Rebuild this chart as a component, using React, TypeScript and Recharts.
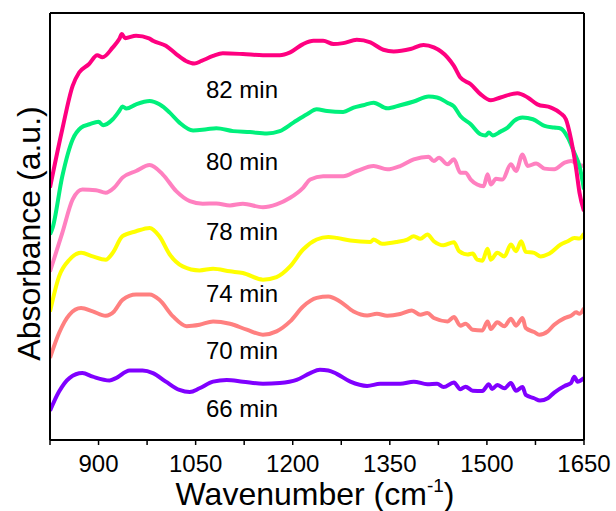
import { LineChart, Line, XAxis, YAxis, ReferenceDot } from "recharts"

// FTIR spectra, [wavenumber (cm-1), absorbance (offset, a.u.)]
const min82: [number, number][] = [
  [825, 10.64], [844, 13.1], [860, 14.93], [870, 15.49], [885, 15.84], [898, 16.22], [906, 16.13],
  [922, 16.55], [932, 16.9], [936, 17.11], [941, 16.94], [958, 17.04], [978, 16.93], [984, 16.83],
  [1004, 16.62], [1020, 16.27], [1035, 15.98], [1048, 15.87], [1059, 15.98], [1077, 16.19],
  [1092, 16.3], [1123, 16.27], [1154, 16.22], [1180, 16.22], [1196, 16.34], [1216, 16.69],
  [1232, 16.83], [1247, 16.83], [1263, 16.69], [1278, 16.73], [1299, 16.87], [1320, 16.76],
  [1340, 16.45], [1356, 16.38], [1382, 16.48], [1402, 16.65], [1418, 16.55], [1439, 16.13],
  [1449, 15.77], [1459, 15.28], [1475, 15.0], [1490, 14.58], [1506, 14.32], [1521, 14.44],
  [1547, 14.62], [1563, 14.44], [1578, 14.15], [1599, 14.01], [1614, 13.77], [1622, 13.52],
  [1630, 12.67], [1638, 11.41], [1643, 10.43], [1650, 9.65],
]

const min80: [number, number][] = [
  [825, 8.66], [829, 8.94], [844, 11.12], [860, 12.67], [873, 13.17], [886, 13.31], [900, 13.42],
  [907, 13.27], [922, 13.52], [932, 13.87], [937, 14.06], [943, 13.97], [958, 14.15], [979, 14.29],
  [994, 14.15], [1010, 13.8], [1025, 13.38], [1046, 13.05], [1067, 13.1], [1082, 13.14],
  [1108, 13.02], [1134, 12.98], [1160, 12.92], [1180, 13.02], [1201, 13.38], [1222, 13.73],
  [1237, 13.94], [1253, 13.87], [1278, 13.83], [1294, 14.01], [1309, 14.11], [1325, 14.22],
  [1346, 13.98], [1366, 14.11], [1387, 14.27], [1410, 14.48], [1423, 14.44], [1439, 14.22],
  [1449, 14.06], [1459, 13.66], [1475, 13.31], [1490, 12.89], [1498, 12.84], [1503, 12.96],
  [1509, 12.84], [1521, 13.0], [1532, 13.17], [1542, 13.45], [1555, 13.59], [1571, 13.52],
  [1589, 13.24], [1604, 13.17], [1614, 13.13], [1625, 12.75], [1635, 12.11], [1643, 11.55],
  [1650, 10.56],
]

const min78: [number, number][] = [
  [825, 7.1], [844, 8.73], [860, 10.14], [875, 10.56], [896, 10.53], [911, 10.42], [924, 10.63],
  [937, 11.06], [958, 11.34], [979, 11.59], [999, 11.2], [1020, 10.49], [1041, 10.07],
  [1061, 9.96], [1082, 9.97], [1103, 9.89], [1123, 9.96], [1154, 9.81], [1175, 9.93],
  [1196, 10.21], [1216, 10.63], [1227, 10.98], [1247, 11.12], [1278, 11.12], [1299, 11.34],
  [1325, 11.55], [1346, 11.41], [1366, 11.55], [1387, 11.83], [1410, 11.94], [1418, 11.76],
  [1426, 11.9], [1439, 11.62], [1449, 11.83], [1459, 11.27], [1467, 11.27], [1475, 10.98],
  [1485, 10.77], [1495, 10.7], [1501, 11.2], [1506, 10.77], [1514, 11.01], [1524, 10.98],
  [1537, 11.62], [1545, 11.34], [1555, 12.04], [1563, 11.55], [1576, 11.66], [1589, 11.44],
  [1604, 11.41], [1620, 11.69], [1630, 11.76], [1640, 11.62], [1650, 11.55],
]

const min74: [number, number][] = [
  [825, 5.41], [839, 6.9], [855, 7.6], [873, 7.89], [891, 7.74], [911, 7.6], [922, 7.89],
  [937, 8.59], [958, 8.8], [979, 8.94], [994, 8.59], [1010, 7.82], [1030, 7.32], [1056, 7.15],
  [1077, 7.22], [1103, 7.11], [1123, 7.04], [1154, 6.76], [1175, 6.87], [1196, 7.32],
  [1216, 8.03], [1237, 8.45], [1255, 8.56], [1268, 8.52], [1289, 8.41], [1320, 8.35],
  [1325, 8.45], [1338, 8.27], [1361, 8.35], [1377, 8.45], [1387, 8.59], [1397, 8.48],
  [1408, 8.66], [1418, 8.38], [1433, 8.21], [1449, 8.34], [1457, 7.96], [1470, 7.82],
  [1478, 7.86], [1485, 7.6], [1493, 7.56], [1501, 8.06], [1506, 7.6], [1516, 7.89],
  [1527, 7.74], [1537, 8.24], [1545, 7.96], [1553, 8.38], [1560, 7.93], [1573, 7.89],
  [1583, 7.74], [1596, 7.85], [1614, 8.24], [1625, 8.38], [1635, 8.52], [1643, 8.49], [1650, 8.7],
]

const min70: [number, number][] = [
  [825, 3.46], [839, 4.51], [855, 5.28], [873, 5.56], [891, 5.42], [911, 5.24], [924, 5.42],
  [937, 5.91], [958, 6.13], [979, 6.13], [994, 5.91], [1015, 5.21], [1036, 4.8], [1056, 4.86],
  [1077, 5.0], [1103, 4.9], [1129, 4.65], [1154, 4.44], [1175, 4.58], [1196, 5.0], [1216, 5.63],
  [1237, 5.99], [1255, 6.05], [1273, 5.84], [1294, 5.42], [1315, 5.25], [1330, 5.32],
  [1346, 5.24], [1366, 5.31], [1384, 5.46], [1397, 5.28], [1408, 5.35], [1418, 5.14],
  [1439, 5.0], [1449, 5.18], [1459, 4.82], [1467, 4.9], [1478, 4.65], [1493, 4.62], [1501, 5.0],
  [1506, 4.68], [1516, 4.96], [1527, 4.79], [1537, 5.11], [1545, 4.82], [1555, 5.14],
  [1560, 4.72], [1573, 4.55], [1581, 4.44], [1594, 4.58], [1604, 4.86], [1620, 5.14],
  [1630, 5.24], [1638, 5.38], [1643, 5.32], [1650, 5.56],
]

const min66: [number, number][] = [
  [825, 1.23], [839, 2.04], [855, 2.61], [875, 2.82], [891, 2.67], [917, 2.51], [927, 2.61],
  [948, 2.93], [968, 2.93], [984, 2.82], [1004, 2.46], [1025, 2.11], [1041, 2.02], [1056, 2.18],
  [1077, 2.46], [1098, 2.53], [1123, 2.46], [1154, 2.37], [1180, 2.4], [1206, 2.53],
  [1227, 2.82], [1242, 2.96], [1255, 2.93], [1268, 2.79], [1289, 2.46], [1315, 2.28],
  [1335, 2.37], [1366, 2.37], [1387, 2.46], [1408, 2.35], [1423, 2.37], [1433, 2.23],
  [1449, 2.42], [1459, 2.14], [1467, 2.25], [1478, 2.08], [1493, 2.07], [1503, 2.35],
  [1508, 2.15], [1516, 2.32], [1527, 2.18], [1537, 2.4], [1545, 2.08], [1555, 2.23],
  [1560, 1.9], [1573, 1.76], [1582, 1.66], [1594, 1.76], [1604, 2.0], [1620, 2.28],
  [1630, 2.4], [1635, 2.67], [1640, 2.46], [1650, 2.61],
]

const seriesNames = ["66 min", "70 min", "74 min", "78 min", "80 min", "82 min"]
const seriesColors = ["#8000FF", "#FF8080", "#FFFF00", "#FF80C0", "#00F07C", "#FF0080"]
const seriesData = [min66, min70, min74, min78, min80, min82]

// where each time label sits (left edge wavenumber, absorbance of its centre line)
const tagX = 1066
const tagY = [1.35, 3.76, 6.17, 8.8, 11.76, 14.79]

const xTicks = [825, 900, 975, 1050, 1125, 1200, 1275, 1350, 1425, 1500, 1575, 1650]
const yTicks = Array.from({ length: 19 }, (_, i) => i)

const FONT = "Arial, 'Liberation Sans', sans-serif"
const axisLine = { stroke: "#000", strokeWidth: 2 }
const tickLine = { stroke: "#000", strokeWidth: 1.5 }

const SeriesTag = ({ viewBox, text }: any) => (
  <text x={viewBox.x} y={viewBox.y + 8.6} fontSize={24} fontFamily={FONT} fill="#000">
    {text}
  </text>
)

const YTitle = ({ viewBox }: any) => (
  <text
    transform={`translate(${viewBox.x - 10}, ${viewBox.y + viewBox.height / 2 + 7}) rotate(-90)`}
    textAnchor="middle"
    fontSize={32}
    fontFamily={FONT}
    fill="#000"
  >
    Absorbance (a.u.)
  </text>
)

const XTitle = ({ viewBox }: any) => (
  <text
    x={viewBox.x + viewBox.width / 2 - 2}
    y={viewBox.y + 65}
    textAnchor="middle"
    fontSize={32}
    fontFamily={FONT}
    fill="#000"
  >
    Wavenumber (cm<tspan dy={-13} fontSize={19}>-1</tspan>
    <tspan dy={13}>)</tspan>
  </text>
)

export default function App() {
  return (
    <div style={{ position: "absolute", left: 0, top: 0, width: 616, height: 511, background: "#fff" }}>
      <LineChart width={616} height={511} margin={{ top: 13, right: 32, bottom: 41, left: 50 }}>
        <XAxis
          xAxisId="b"
          type="number"
          dataKey="w"
          domain={[825, 1650]}
          ticks={xTicks}
          tickFormatter={(v: number) => ((v - 900) % 150 === 0 ? String(v) : "")}
          tick={{ fontSize: 24, fontFamily: FONT, fill: "#000" }}
          tickSize={5}
          tickMargin={10}
          height={30}
          axisLine={axisLine}
          tickLine={tickLine}
          allowDataOverflow
          label={{ content: (p: any) => <XTitle viewBox={p.viewBox} /> }}
        />
        <XAxis
          xAxisId="t"
          orientation="top"
          type="number"
          dataKey="w"
          domain={[825, 1650]}
          ticks={xTicks}
          tick={false}
          mirror
          tickSize={3}
          height={1}
          axisLine={axisLine}
          tickLine={tickLine}
        />
        <YAxis
          yAxisId="l"
          type="number"
          domain={[0, 18]}
          ticks={yTicks}
          tick={false}
          mirror
          tickSize={3}
          width={1}
          axisLine={axisLine}
          tickLine={tickLine}
          label={{ content: (p: any) => <YTitle viewBox={p.viewBox} /> }}
        />
        <YAxis
          yAxisId="r"
          orientation="right"
          type="number"
          domain={[0, 18]}
          ticks={yTicks}
          tick={false}
          mirror
          tickSize={3}
          width={1}
          axisLine={axisLine}
          tickLine={tickLine}
        />
        {seriesData.map((s, i) => (
          <Line
            key={seriesNames[i]}
            xAxisId="b"
            yAxisId="l"
            data={s.map(([w, a]) => ({ w, a }))}
            dataKey="a"
            type="monotone"
            stroke={seriesColors[i]}
            strokeWidth={4}
            strokeLinejoin="round"
            dot={false}
            activeDot={false}
            isAnimationActive={false}
          />
        ))}
        {seriesNames.map((name, i) => (
          <ReferenceDot
            key={name}
            xAxisId="b"
            yAxisId="l"
            x={tagX}
            y={tagY[i]}
            r={0}
            fill="none"
            stroke="none"
            label={{ content: (p: any) => <SeriesTag viewBox={p.viewBox} text={name} /> }}
          />
        ))}
      </LineChart>
    </div>
  )
}
